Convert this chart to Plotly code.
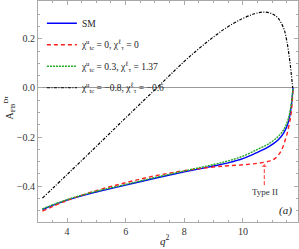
import plotly.graph_objects as go

# ---------------- data ----------------
q2_sm = [3.16, 4.0, 5.0, 6.0, 7.0, 8.0, 9.0, 9.5, 10.0, 10.5, 10.9, 11.2, 11.4, 11.55, 11.65, 11.71]
afb_sm = [-0.495, -0.457, -0.424, -0.396, -0.368, -0.342, -0.318, -0.305, -0.288, -0.262, -0.238, -0.212, -0.182, -0.140, -0.075, 0.0]

q2_t2 = [3.16, 4.0, 5.0, 6.0, 7.0, 8.0, 9.0, 9.5, 10.0, 10.5, 10.9, 11.1, 11.3, 11.45, 11.56, 11.65, 11.71]
afb_t2 = [-0.502, -0.458, -0.418, -0.386, -0.358, -0.337, -0.322, -0.317, -0.313, -0.307, -0.298, -0.287, -0.257, -0.210, -0.160, -0.100, 0.0]

q2_g = [3.16, 4.0, 5.0, 6.0, 7.0, 8.0, 9.0, 9.5, 10.0, 10.5, 10.9, 11.2, 11.4, 11.55, 11.65, 11.71]
afb_g = [-0.493, -0.455, -0.421, -0.393, -0.365, -0.338, -0.312, -0.297, -0.278, -0.250, -0.226, -0.198, -0.168, -0.125, -0.065, 0.0]

q2_k = [3.16, 4.0, 5.0, 6.0, 7.0, 8.0, 8.5, 9.0, 9.5, 10.0, 10.4, 10.7, 11.0, 11.2, 11.4, 11.5, 11.6, 11.7]
afb_k = [-0.449, -0.353, -0.238, -0.122, -0.007, 0.108, 0.160, 0.208, 0.250, 0.283, 0.302, 0.309, 0.302, 0.284, 0.240, 0.190, 0.110, 0.0]

names = [
    "SM",
    "χ<sup>u</sup><sub>tc</sub> = 0, χ<sup>ℓ</sup><sub>τ</sub> = 0",
    "χ<sup>u</sup><sub>tc</sub> = 0.3, χ<sup>ℓ</sup><sub>τ</sub> = 1.37",
    "χ<sup>u</sup><sub>tc</sub> = −0.8, χ<sup>ℓ</sup><sub>τ</sub> = −0.6",
]

# annotation anchor (Type II arrow)
arrow_q2 = [10.73, 10.73]
arrow_y = [-0.396, -0.318]

FONT = "Liberation Serif"

fig = go.Figure()
fig.add_trace(go.Scatter(x=q2_sm, y=afb_sm, mode="lines", name=names[0], legendgroup="a",
                         line=dict(color="#0000ff", width=1.4, shape="spline")))
fig.add_trace(go.Scatter(x=q2_t2, y=afb_t2, mode="lines", name=names[1], legendgroup="b",
                         line=dict(color="#ff2020", width=1.4, dash="4px,3px", shape="spline")))
fig.add_trace(go.Scatter(x=q2_g, y=afb_g, mode="lines", name=names[2], legendgroup="c",
                         line=dict(color="#22aa22", width=1.4, dash="2px,1px", shape="spline")))
fig.add_trace(go.Scatter(x=q2_k, y=afb_k, mode="lines", name=names[3], legendgroup="d",
                         line=dict(color="#000000", width=1.2, dash="3px,1.5px,1px,1.5px", shape="spline")))
fig.add_trace(go.Scatter(x=arrow_q2, y=arrow_y, mode="lines+markers", showlegend=False,
                         line=dict(color="#ff3030", width=1, dash="4px,2px"),
                         marker=dict(symbol="triangle-up", size=[0, 6], color="#ff3030"),
                         hoverinfo="skip"))

fig.add_annotation(x=10.75, y=-0.424, text="Type II", showarrow=False,
                   font=dict(family=FONT, size=9, color="#333"))
fig.add_annotation(x=11.44, y=-0.498, text="<i>(a)</i>", showarrow=False,
                   font=dict(family=FONT, size=11, color="#222"))
fig.add_annotation(xref="paper", yref="paper", x=-0.11, y=0.52, textangle=-90,
                   xanchor="center", yanchor="middle",
                   text="A<sub>FB</sub><sup>Dτ</sup>", showarrow=False,
                   font=dict(family=FONT, size=10, color="#222"))
fig.add_annotation(xref="paper", yref="paper", x=0.488, y=-0.122,
                   xanchor="center", yanchor="bottom",
                   text="<i>q</i><sup>2</sup>", showarrow=False,
                   font=dict(family=FONT, size=11, color="#222"))

axis_common = dict(showline=True, linecolor="#aaaaaa", linewidth=1, mirror="ticks",
                   ticks="inside", tickcolor="#aaaaaa", ticklen=4, tickwidth=1,
                   showgrid=False, tickfont=dict(family=FONT, size=10, color="#333"))

fig.update_xaxes(range=[3.01, 11.88], tick0=0, dtick=2, zeroline=False,
                 minor=dict(dtick=0.5, ticks="inside", ticklen=2, tickcolor="#aaaaaa"),
                 **axis_common)
fig.update_yaxes(range=[-0.546, 0.354], tick0=0, dtick=0.2, tickformat=".1f",
                 zeroline=True, zerolinecolor="#999999", zerolinewidth=1.3,
                 minor=dict(dtick=0.05, ticks="inside", ticklen=2, tickcolor="#aaaaaa"),
                 **axis_common)

fig.update_layout(
    width=299, height=249,
    margin=dict(l=38, r=1, t=1, b=27),
    paper_bgcolor="white", plot_bgcolor="white",
    showlegend=True,
    legend=dict(x=0.015, y=0.965, xanchor="left", yanchor="top",
                bgcolor="rgba(0,0,0,0)", font=dict(family=FONT, size=9.5, color="#222"),
                itemwidth=30, tracegroupgap=2.5),
)

fig.write_html("out.html", config={"displayModeBar": False},
               post_script="document.body.style.margin='0';document.body.style.overflow='hidden';")
